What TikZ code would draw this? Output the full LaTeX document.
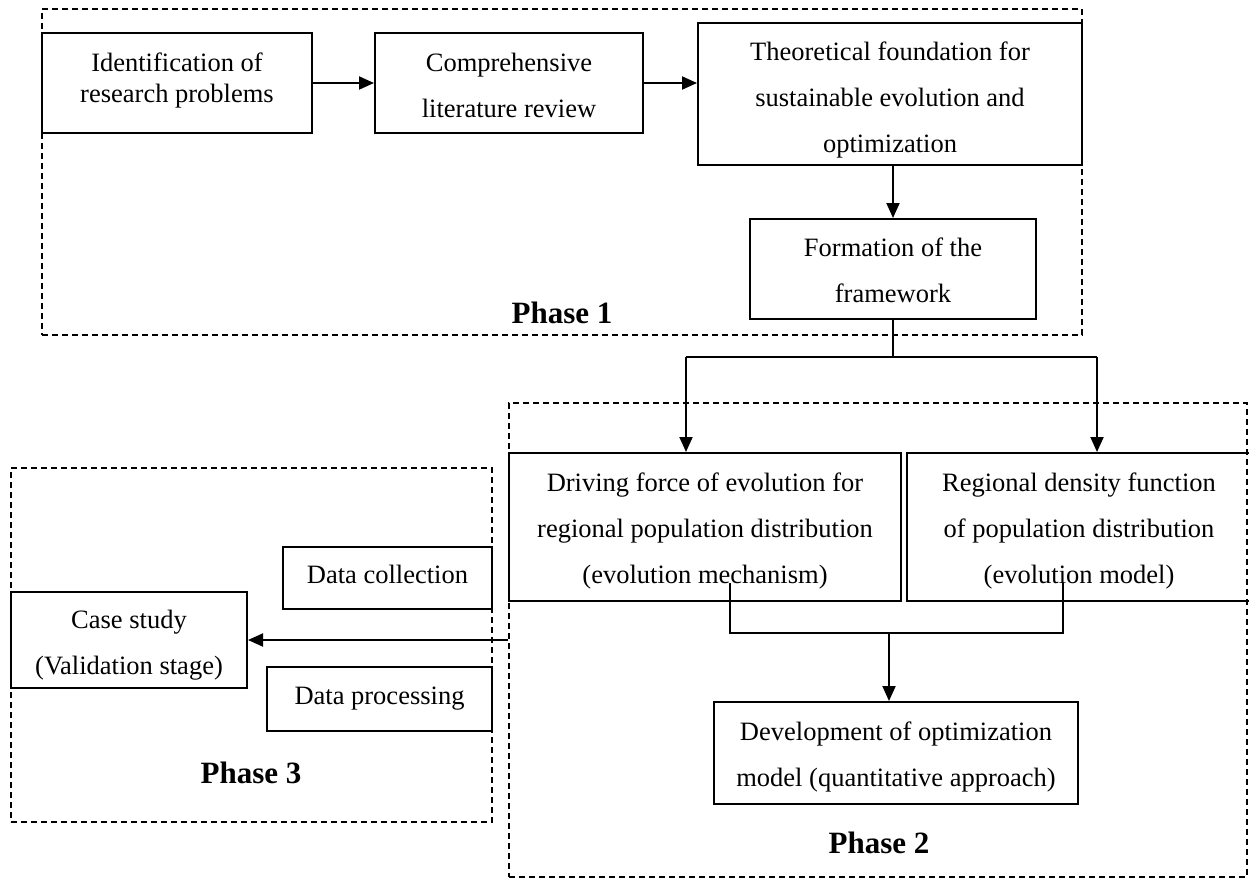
\documentclass[tikz,border=0pt]{standalone}
\usepackage{fontspec}
\setmainfont{Liberation Serif}
\usetikzlibrary{arrows.meta}

% invisible struts: height of the first line and depth of the last line,
% which decide where the text sits inside its box
\newcommand{\boxtop}[1]{\rule{0pt}{#1pt}}
\newcommand{\boxbot}[1]{\rule[-#1pt]{0pt}{#1pt}}

\tikzset{
  stepbox/.style={draw, line width=2pt, inner sep=0pt, align=center,
    font=\fontsize{26.5}{46}\selectfont},
  frame/.style={draw, line width=1.5pt, dash pattern=on 6pt off 4pt, inner sep=0pt},
  phase/.style={font=\fontsize{31}{36}\selectfont\bfseries, inner sep=0pt},
  link/.style={line width=2pt},
  arr/.style={line width=2pt, -{Triangle[length=15pt,width=13pt]}}
}

\begin{document}
\begin{tikzpicture}[x=1pt, y=-1pt]
\useasboundingbox (0,0) rectangle (1249,878);

% dashed phase frames
\node[frame, minimum width=1040pt, minimum height=326pt] (p1) at (562,172) {};
\node[frame, minimum width=738pt, minimum height=474pt] (p2) at (878,640) {};
\node[frame, minimum width=481pt, minimum height=354pt] (p3) at (251.5,645) {};

% phase 1
\node[stepbox, minimum width=270pt, minimum height=100pt,
      font=\fontsize{26.5}{31}\selectfont] (id) at (177,83)
      {\boxtop{27}Identification of\\research problems\boxbot{19}};
\node[stepbox, minimum width=268pt, minimum height=100pt] (lit) at (509,83)
      {\boxtop{30}Comprehensive\\literature review\boxbot{8}};
\node[stepbox, minimum width=384pt, minimum height=142pt] (theo) at (890,94)
      {\boxtop{32}Theoretical foundation for\\sustainable evolution and\\optimization\boxbot{8}};
\node[stepbox, minimum width=286pt, minimum height=100pt] (form) at (893,269)
      {\boxtop{29}Formation of the\\framework\boxbot{8}};
\node[phase] (lab1) at (562,313) {Phase 1};

% phase 2
\node[stepbox, minimum width=392pt, minimum height=148pt] (drive) at (705,527)
      {\boxtop{28}Driving force of evolution for\\regional population distribution\\(evolution mechanism)\boxbot{8}};
\node[stepbox, minimum width=344pt, minimum height=148pt] (reg) at (1079,527)
      {\boxtop{28}Regional density function\\of population distribution\\(evolution model)\boxbot{8}};
\node[stepbox, minimum width=364pt, minimum height=102pt] (dev) at (896,753)
      {\boxtop{28}Development of optimization\\model (quantitative approach)\boxbot{8}};
\node[phase] (lab2) at (879,843) {Phase 2};

% phase 3
\node[stepbox, minimum width=209pt, minimum height=62pt] (dcol) at (387.5,578)
      {\boxtop{26}Data collection\boxbot{16}};
\node[stepbox, minimum width=236pt, minimum height=96pt] (case) at (129,640)
      {\boxtop{31}Case study\\(Validation stage)\boxbot{8}};
\node[stepbox, minimum width=225pt, minimum height=64pt] (dproc) at (379.5,699)
      {\boxtop{26}Data processing\boxbot{16}};
\node[phase] (lab3) at (251,773) {Phase 3};

% phase 1 flow
\draw[arr] (id.east) -- (lit.west);
\draw[arr] (lit.east) -- (lit.east -| theo.west);
\draw[arr] (theo.south -| form.north) -- (form.north);

% split from the framework into the two phase 2 branches
\coordinate (bl) at (686,357);
\coordinate (br) at (1097,357);
\draw[link] (form.south) -- (form.south |- bl);
\draw[link] (bl) -- (br);
\draw[arr] (bl) -- (bl |- drive.north);
\draw[arr] (br) -- (br |- reg.north);

% merge of the two branches into the optimization model
\coordinate (dj) at (730,583);
\coordinate (rj) at (1063,583);
\coordinate (mj) at (889,633);
\draw[link] (dj) -- (dj |- mj) -- (rj |- mj) -- (rj);
\draw[arr] (mj) -- (mj |- dev.north);

% hand-over to the case study
\draw[arr] (case.east -| p2.west) -- (case.east);
\end{tikzpicture}
\end{document}
